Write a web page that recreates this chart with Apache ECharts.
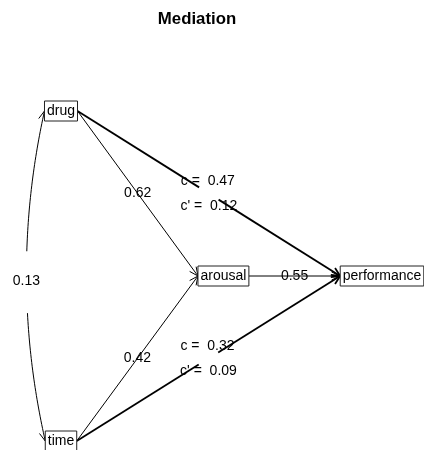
<!DOCTYPE html>
<html><head><meta charset="utf-8">
<script src="https://cdn.jsdelivr.net/npm/echarts@6/dist/echarts.min.js"></script>
<style>html,body{margin:0;padding:0;background:#fff}#c{width:424px;height:450px}</style>
</head><body><div id="c"></div>
<script>
// ---- data ----
const chartTitle = 'Mediation';
const predictors = ['drug', 'time'];
const mediator = 'arousal';
const outcome = 'performance';
const aPaths = [0.62, 0.42];      // predictor -> mediator
const bPaths = [0.55];            // mediator -> outcome
const cTotal = [0.47, 0.32];      // total effects
const cDirect = [0.12, 0.09];     // direct effects
const predictorCor = [0.13];      // correlation between predictors

// ---- diagram layout (units on hidden axes) ----
const nodeNames = [predictors[0], predictors[1], mediator, outcome];
const nodeX = [0, 0, 5.06, 10];
const nodeY = [10, 0, 5, 5];

const FONT = '14px "Liberation Sans", Arial, sans-serif';
const mctx = document.createElement('canvas').getContext('2d');
mctx.font = FONT;
const boxW = nodeNames.map(n => mctx.measureText(n).width + 5);
const BOX_H = 20;

const edges = [
  {from: 0, to: 2, kind: 'thin',   labels: [String(aPaths[0])]},
  {from: 1, to: 2, kind: 'thin',   labels: [String(aPaths[1])]},
  {from: 2, to: 3, kind: 'thin',   labels: [String(bPaths[0])]},
  {from: 0, to: 3, kind: 'direct', labels: ['c =  ' + cTotal[0], "c' =  " + cDirect[0]]},
  {from: 1, to: 3, kind: 'direct', labels: ['c =  ' + cTotal[1], "c' =  " + cDirect[1]]},
  {from: 0, to: 1, kind: 'curve',  labels: [String(predictorCor[0])]}
];

function txt(t, x, y) {
  return {type: 'text', style: {text: t, x: x, y: y, align: 'center', verticalAlign: 'middle', font: FONT, fill: '#000'}};
}
function seg(a, b, lw) {
  return {type: 'line', shape: {x1: a[0], y1: a[1], x2: b[0], y2: b[1]}, style: {stroke: '#000', lineWidth: lw}};
}
function arrowHead(tip, dx, dy, lw) {
  const len = 9.5, ang = 25 * Math.PI / 180;
  const L = Math.hypot(dx, dy), ux = dx / L, uy = dy / L;
  const bx = -ux * len, by = -uy * len;
  const rot = (x, y, t) => [x * Math.cos(t) - y * Math.sin(t), x * Math.sin(t) + y * Math.cos(t)];
  const w1 = rot(bx, by, ang), w2 = rot(bx, by, -ang);
  return {type: 'polyline', shape: {points: [[tip[0] + w1[0], tip[1] + w1[1]], [tip[0], tip[1]], [tip[0] + w2[0], tip[1] + w2[1]]]},
          style: {stroke: '#000', fill: null, lineWidth: lw}};
}

function renderEdge(params, api) {
  const e = edges[params.dataIndex];
  const p0 = api.coord([api.value(0), api.value(1)]);
  const p1 = api.coord([api.value(2), api.value(3)]);
  const w0 = boxW[e.from], w1 = boxW[e.to];
  const children = [];
  if (e.kind === 'curve') {
    const s = [p0[0] - w0 / 2, p0[1]], t = [p1[0] - w1 / 2, p1[1]];
    const c = [Math.min(s[0], t[0]) - 36.5, (s[1] + t[1]) / 2];
    const bz = u => [(1 - u) * (1 - u) * s[0] + 2 * u * (1 - u) * c[0] + u * u * t[0],
                     (1 - u) * (1 - u) * s[1] + 2 * u * (1 - u) * c[1] + u * u * t[1]];
    const mid = bz(0.5);
    const ly = mid[1] + 5, gap = 29;
    let upper = [], lower = [];
    for (let i = 0; i <= 80; i++) {
      const p = bz(i / 80);
      if (p[1] < ly - gap) upper.push(p);
      else if (p[1] > ly + gap) lower.push(p);
    }
    children.push({type: 'polyline', shape: {points: upper}, style: {stroke: '#000', fill: null, lineWidth: 1}});
    children.push({type: 'polyline', shape: {points: lower}, style: {stroke: '#000', fill: null, lineWidth: 1}});
    children.push(arrowHead(s, s[0] - c[0], s[1] - c[1], 1));
    children.push(arrowHead(t, t[0] - c[0], t[1] - c[1], 1));
    children.push(txt(e.labels[0], mid[0], ly));
  } else {
    const s = [p0[0] + w0 / 2, p0[1]], t = [p1[0] - w1 / 2, p1[1]];
    const dx = t[0] - s[0], dy = t[1] - s[1], L = Math.hypot(dx, dy);
    const ux = dx / L, uy = dy / L;
    const m = [(s[0] + t[0]) / 2, (s[1] + t[1]) / 2];
    if (e.kind === 'thin') {
      children.push(seg(s, t, 1));
      children.push(arrowHead(t, dx, dy, 1));
      children.push(txt(e.labels[0], m[0], m[1]));
    } else {
      const g = 11.5;
      children.push(seg(s, [m[0] - ux * g, m[1] - uy * g], 1.8));
      children.push(seg([m[0] + ux * g, m[1] + uy * g], t, 1.8));
      children.push(arrowHead(t, dx, dy, 1.8));
      children.push(txt(e.labels[0], m[0] - 1, m[1] - 12));
      children.push(txt(e.labels[1], m[0], m[1] + 12.5));
    }
  }
  return {type: 'group', children: children};
}

function renderNode(params, api) {
  const i = params.dataIndex;
  const p = api.coord([api.value(0), api.value(1)]);
  const w = boxW[i];
  return {type: 'group', children: [
    {type: 'rect', shape: {x: p[0] - w / 2, y: p[1] - BOX_H / 2, width: w, height: BOX_H},
     style: {fill: '#fff', stroke: '#222', lineWidth: 1}},
    txt(nodeNames[i], p[0], p[1])
  ]};
}

const chart = echarts.init(document.getElementById('c'), null, {renderer: 'canvas'});
chart.setOption({
  animation: false,
  backgroundColor: '#fff',
  title: {text: chartTitle, left: 192, top: 6, textAlign: 'center',
          textStyle: {fontSize: 16.8, fontWeight: 'bold', color: '#000', fontFamily: '"Liberation Sans", Arial, sans-serif'}},
  grid: {left: 61, right: 42, top: 111, bottom: 9},
  xAxis: {type: 'value', min: 0, max: 10, show: false},
  yAxis: {type: 'value', min: 0, max: 10, show: false},
  series: [
    {type: 'custom', name: 'paths', silent: true, clip: false, renderItem: renderEdge,
     data: edges.map(e => [nodeX[e.from], nodeY[e.from], nodeX[e.to], nodeY[e.to]])},
    {type: 'custom', name: 'variables', silent: true, clip: false, renderItem: renderNode,
     data: nodeNames.map((n, i) => [nodeX[i], nodeY[i]])}
  ]
});
</script>
</body></html>
